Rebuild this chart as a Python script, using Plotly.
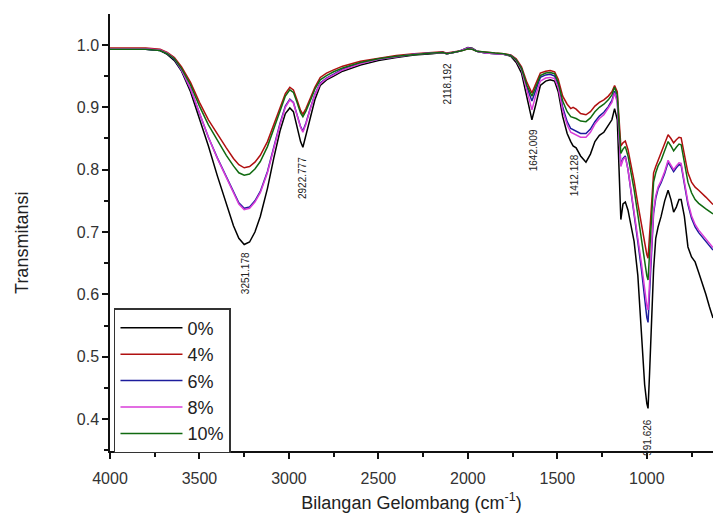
import plotly.graph_objects as go

WN = [4000, 3800, 3720, 3680, 3640, 3600, 3550, 3500, 3450, 3400,
      3350, 3310, 3280, 3250, 3220, 3190, 3160, 3120, 3085, 3050,
      3020, 2995, 2975, 2955, 2935, 2922, 2905, 2880, 2855, 2825,
      2790, 2750, 2700, 2600, 2500, 2400, 2300, 2200, 2140, 2118,
      2095, 2060, 2030, 2000, 1975, 1950, 1900, 1850, 1800, 1760,
      1730, 1700, 1670, 1642, 1620, 1595, 1565, 1540, 1515, 1495,
      1470, 1445, 1425, 1412, 1395, 1370, 1340, 1315, 1290, 1265,
      1240, 1215, 1195, 1180, 1165, 1155, 1145, 1133, 1120, 1105,
      1090, 1071, 1050, 1030, 1012, 1000, 993, 985, 975, 962,
      950, 937, 920, 900, 881, 865, 850, 835, 820, 808,
      790, 770, 750, 730, 710, 690, 670, 650, 630]

T0 = [0.993, 0.993, 0.991, 0.985, 0.975, 0.958, 0.925, 0.883, 0.838, 0.790,
      0.745, 0.710, 0.690, 0.680, 0.684, 0.700, 0.725, 0.770, 0.818, 0.862,
      0.890, 0.899, 0.893, 0.870, 0.845, 0.836, 0.855, 0.885, 0.912, 0.935,
      0.944, 0.950, 0.958, 0.968, 0.975, 0.980, 0.984, 0.986, 0.988, 0.986,
      0.987, 0.989, 0.992, 0.996, 0.995, 0.990, 0.987, 0.986, 0.985, 0.982,
      0.972, 0.955, 0.915, 0.880, 0.905, 0.935, 0.942, 0.944, 0.942, 0.925,
      0.885, 0.858, 0.845, 0.838, 0.835, 0.822, 0.812, 0.825, 0.845, 0.855,
      0.860, 0.870, 0.880, 0.898, 0.880, 0.800, 0.720, 0.745, 0.748, 0.735,
      0.715, 0.685, 0.630, 0.535, 0.455, 0.425, 0.417, 0.470, 0.540, 0.640,
      0.690, 0.708, 0.725, 0.750, 0.767, 0.752, 0.732, 0.740, 0.752, 0.752,
      0.725, 0.676, 0.660, 0.652, 0.635, 0.618, 0.600, 0.580, 0.562]

T4 = [0.995, 0.995, 0.993, 0.988, 0.980, 0.965, 0.940, 0.908, 0.880, 0.857,
      0.835, 0.818, 0.808, 0.803, 0.805, 0.812, 0.823, 0.845, 0.872, 0.900,
      0.922, 0.932, 0.928, 0.912, 0.895, 0.889, 0.898, 0.915, 0.932, 0.948,
      0.955, 0.960, 0.966, 0.974, 0.979, 0.983, 0.986, 0.988, 0.989, 0.987,
      0.988, 0.989, 0.991, 0.994, 0.993, 0.990, 0.988, 0.987, 0.986, 0.984,
      0.978, 0.965, 0.940, 0.923, 0.938, 0.955, 0.958, 0.959, 0.957, 0.945,
      0.918, 0.905, 0.898, 0.900, 0.897, 0.890, 0.888, 0.893, 0.902, 0.908,
      0.912, 0.918, 0.925, 0.935, 0.925, 0.880, 0.838, 0.843, 0.846, 0.832,
      0.812, 0.782, 0.745, 0.710, 0.680, 0.664, 0.658, 0.690, 0.740, 0.795,
      0.805, 0.815, 0.825, 0.840, 0.856, 0.850, 0.843, 0.848, 0.852, 0.851,
      0.825, 0.795, 0.780, 0.772, 0.767, 0.762, 0.756, 0.750, 0.744]

T6 = [0.993, 0.993, 0.991, 0.986, 0.977, 0.959, 0.929, 0.889, 0.852, 0.819,
      0.789, 0.764, 0.747, 0.738, 0.740, 0.750, 0.765, 0.797, 0.837, 0.874,
      0.902, 0.913, 0.908, 0.889, 0.869, 0.862, 0.875, 0.899, 0.921, 0.939,
      0.947, 0.953, 0.961, 0.971, 0.977, 0.981, 0.985, 0.987, 0.988, 0.986,
      0.987, 0.989, 0.992, 0.995, 0.994, 0.990, 0.987, 0.986, 0.985, 0.983,
      0.976, 0.962, 0.932, 0.910, 0.928, 0.948, 0.952, 0.953, 0.950, 0.936,
      0.900, 0.877, 0.866, 0.864, 0.862, 0.858, 0.858, 0.865, 0.877, 0.886,
      0.892, 0.901, 0.911, 0.926, 0.911, 0.858, 0.808, 0.818, 0.822, 0.800,
      0.770, 0.730, 0.684, 0.640, 0.590, 0.563, 0.555, 0.600, 0.665, 0.730,
      0.754, 0.769, 0.779, 0.794, 0.812, 0.805, 0.797, 0.803, 0.808, 0.807,
      0.779, 0.744, 0.722, 0.708, 0.699, 0.692, 0.685, 0.678, 0.671]

T8 = [0.994, 0.994, 0.992, 0.987, 0.978, 0.960, 0.930, 0.890, 0.852, 0.818,
      0.787, 0.762, 0.745, 0.736, 0.738, 0.748, 0.763, 0.795, 0.835, 0.872,
      0.900, 0.912, 0.907, 0.888, 0.868, 0.860, 0.873, 0.898, 0.920, 0.938,
      0.946, 0.952, 0.960, 0.970, 0.977, 0.981, 0.985, 0.987, 0.988, 0.986,
      0.987, 0.989, 0.992, 0.995, 0.994, 0.990, 0.987, 0.986, 0.985, 0.983,
      0.975, 0.960, 0.925, 0.896, 0.920, 0.942, 0.947, 0.948, 0.946, 0.932,
      0.895, 0.872, 0.860, 0.858, 0.856, 0.852, 0.852, 0.860, 0.873, 0.882,
      0.888, 0.898, 0.908, 0.923, 0.908, 0.855, 0.805, 0.816, 0.820, 0.800,
      0.772, 0.734, 0.690, 0.650, 0.605, 0.582, 0.575, 0.615, 0.675, 0.735,
      0.758, 0.772, 0.782, 0.797, 0.815, 0.808, 0.800, 0.806, 0.811, 0.810,
      0.782, 0.748, 0.726, 0.712, 0.703, 0.696, 0.689, 0.682, 0.675]

T10 = [0.993, 0.993, 0.991, 0.986, 0.978, 0.962, 0.936, 0.902, 0.872, 0.847,
       0.823, 0.806, 0.795, 0.791, 0.793, 0.801, 0.813, 0.837, 0.866, 0.895,
       0.918, 0.928, 0.924, 0.908, 0.891, 0.885, 0.894, 0.911, 0.929, 0.944,
       0.951, 0.957, 0.963, 0.972, 0.978, 0.982, 0.985, 0.987, 0.988, 0.986,
       0.987, 0.989, 0.991, 0.994, 0.993, 0.990, 0.988, 0.987, 0.986, 0.983,
       0.976, 0.962, 0.935, 0.918, 0.933, 0.951, 0.955, 0.956, 0.954, 0.940,
       0.910, 0.893, 0.885, 0.884, 0.882, 0.878, 0.877, 0.883, 0.893, 0.900,
       0.905, 0.912, 0.920, 0.932, 0.920, 0.870, 0.826, 0.833, 0.837, 0.822,
       0.800, 0.768, 0.728, 0.688, 0.650, 0.630, 0.623, 0.660, 0.718, 0.780,
       0.795, 0.806, 0.815, 0.830, 0.845, 0.838, 0.830, 0.836, 0.841, 0.840,
       0.812, 0.780, 0.763, 0.752, 0.746, 0.741, 0.737, 0.733, 0.729]

SERIES = ["0%", "4%", "6%", "8%", "10%"]
COLORS = ["#000000", "#b01010", "#1c1c9c", "#d83cd8", "#106a10"]
DATA = [T0, T4, T6, T8, T10]

PEAK_LABELS = ["3251.178", "2922.777", "2118.192", "1642.009", "1412.128", "991.626"]
PEAK_X = [3245, 2927, 2116, 1636, 1406, 998]
PEAK_Y = [0.671, 0.8235, 0.973, 0.868, 0.828, 0.403]

FONT = "Arial, Liberation Sans, sans-serif"

fig = go.Figure()
for name, col, t in zip(SERIES, COLORS, DATA):
    fig.add_trace(go.Scatter(x=WN, y=t, mode="lines", name=name,
                             line=dict(color=col, width=1.5)))

for lab, px, py in zip(PEAK_LABELS, PEAK_X, PEAK_Y):
    fig.add_annotation(x=px, y=py, text=lab, showarrow=False, textangle=-90,
                       xanchor="center", yanchor="top",
                       font=dict(family=FONT, size=10, color="#222"))

fig.add_annotation(x=-0.146, y=0.476, xref="paper", yref="paper",
                   xanchor="center", yanchor="middle",
                   text="Transmitansi", showarrow=False, textangle=-90,
                   font=dict(family=FONT, size=18, color="#222"))

fig.update_layout(
    width=713, height=518,
    margin=dict(l=110, r=0, t=14, b=67),
    paper_bgcolor="white", plot_bgcolor="white",
    font=dict(family=FONT, color="#222"),
    showlegend=True,
    legend=dict(x=0.0066, y=0.327, xanchor="left", yanchor="top",
                bordercolor="#333", borderwidth=1.5, bgcolor="white",
                font=dict(family=FONT, size=18, color="#222"),
                tracegroupgap=0, itemwidth=62),
    xaxis=dict(range=[4000, 630], tickmode="linear", tick0=1000, dtick=500,
               ticks="outside", ticklen=6, tickwidth=1.5, tickcolor="#111",
               showline=True, linecolor="#111", linewidth=1.5,
               showgrid=False, zeroline=False, ticklabelstandoff=6,
               tickfont=dict(family=FONT, size=16, color="#333"),
               minor=dict(dtick=250, ticks="outside", ticklen=4, tickwidth=1.5,
                          tickcolor="#111", showgrid=False),
               title=dict(text="Bilangan Gelombang (cm<sup>-1</sup>)",
                          font=dict(family=FONT, size=18, color="#222"),
                          standoff=10)),
    yaxis=dict(range=[0.3487, 1.0497], tickmode="linear", tick0=0.4, dtick=0.1,
               tickformat=".1f",
               ticks="outside", ticklen=6, tickwidth=1.5, tickcolor="#111",
               showline=True, linecolor="#111", linewidth=1.5,
               showgrid=False, zeroline=False,
               tickfont=dict(family=FONT, size=16, color="#333"),
               minor=dict(dtick=0.05, ticks="outside", ticklen=4, tickwidth=1.5,
                          tickcolor="#111", showgrid=False)),
)

fig.write_html("out.html")
